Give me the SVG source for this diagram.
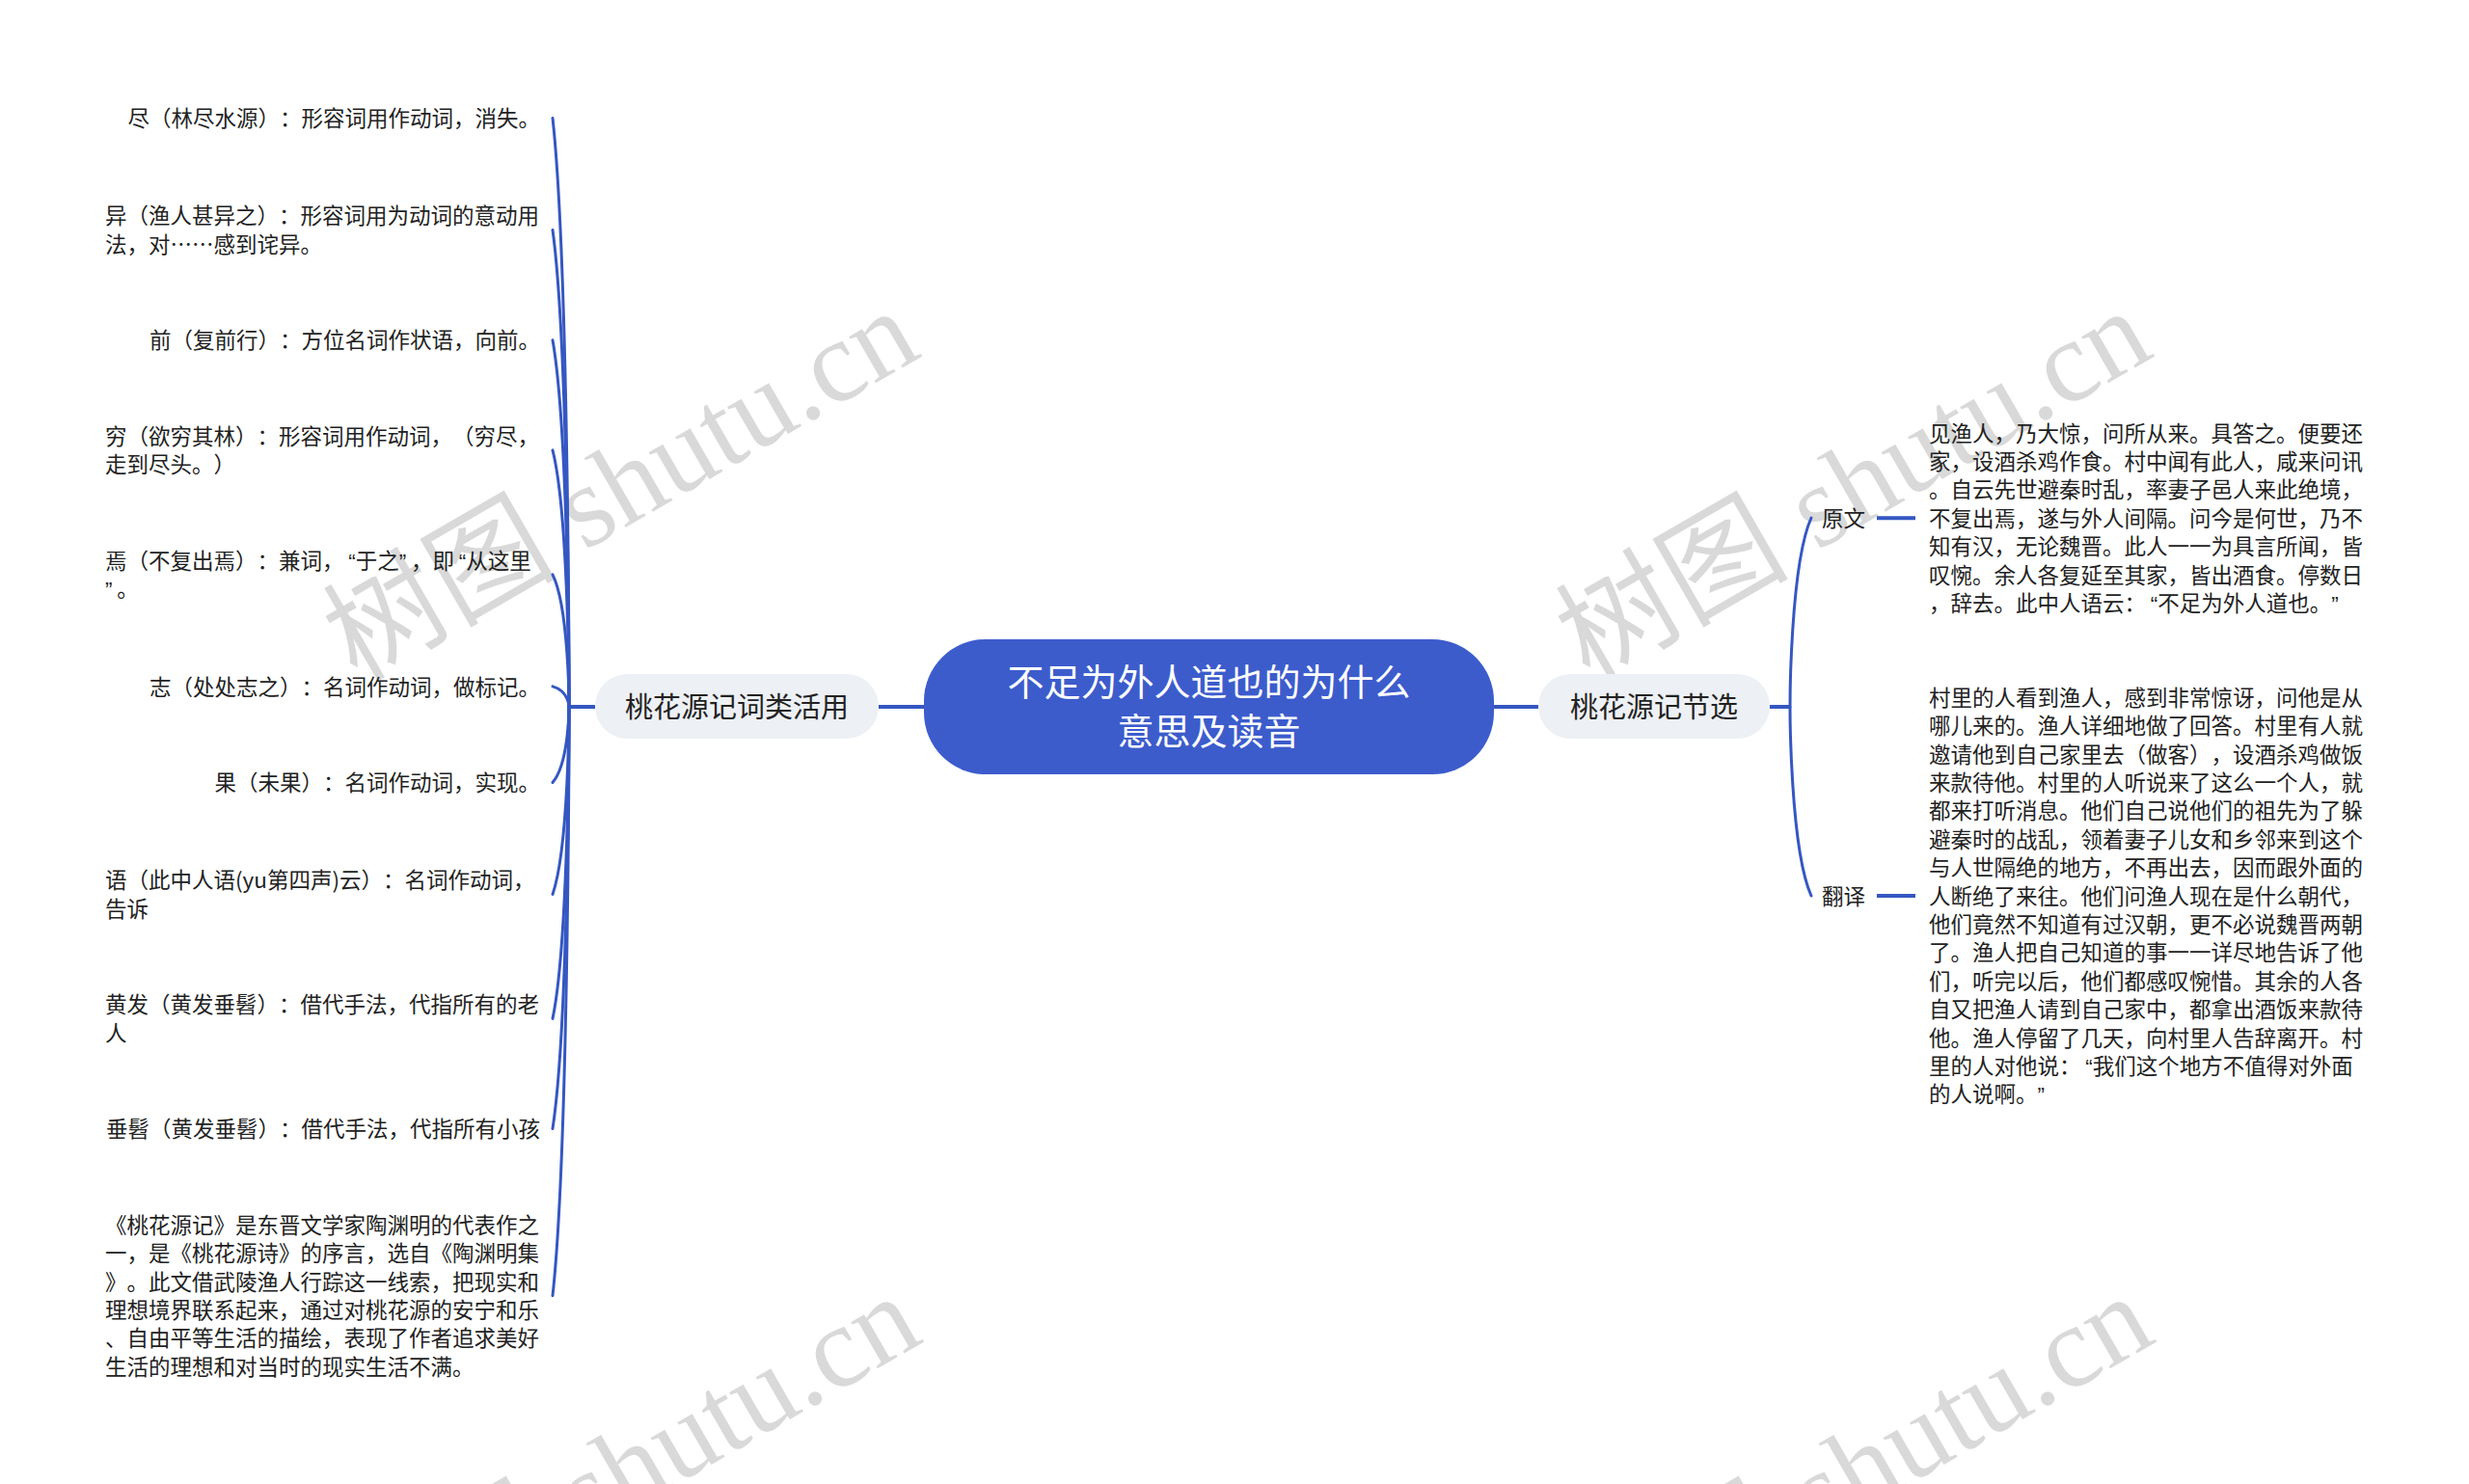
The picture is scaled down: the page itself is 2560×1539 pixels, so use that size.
<svg xmlns="http://www.w3.org/2000/svg" width="2560" height="1539" viewBox="0 0 2560 1539">
<style>
text{text-spacing-trim:space-all}
.wm{font-family:"Liberation Serif","Noto Sans CJK SC",serif;font-size:121px;fill:#000;fill-opacity:0.15}
.t{font-family:"Noto Sans CJK SC","Liberation Sans",sans-serif;font-size:22.5px;fill:#222}
.q{font-family:"Liberation Sans",sans-serif}
.qc{font-family:"Liberation Sans",sans-serif;letter-spacing:4.7px}
.e{text-anchor:end}
.br{font-family:"Noto Sans CJK SC","Liberation Sans",sans-serif;font-size:29px;fill:#222;text-anchor:middle}
.ct{font-family:"Noto Sans CJK SC","Liberation Sans",sans-serif;font-size:38px;fill:#fff;text-anchor:middle}
.ln{fill:none;stroke:#3557c2;stroke-width:3;stroke-linecap:round}
.lk{fill:none;stroke:#3557c2;stroke-width:4}
.bn{fill:#edf0f4}
</style>
<rect width="2560" height="1539" fill="#fff"/>
<g id="watermarks">
<text class="wm" transform="translate(370,708) rotate(-30)">树图 shutu.cn</text>
<text class="wm" transform="translate(1648,708) rotate(-30)">树图 shutu.cn</text>
<text class="wm" transform="translate(372,1730) rotate(-30)">树图 shutu.cn</text>
<text class="wm" transform="translate(1650,1730) rotate(-30)">树图 shutu.cn</text>
</g>
<g id="connectors">
<path class="lk" d="M911 733H958M1549 733H1595M617 733H590M1835 733H1856"/>
<path class="ln" d="M590 733C590 733 590 275 573 122.4"/>
<path class="ln" d="M590 733C590 733 590 362 573 238.4"/>
<path class="ln" d="M590 733C590 733 590 448 573 352.7"/>
<path class="ln" d="M590 733C590 733 590 533 573 466.9"/>
<path class="ln" d="M590 733C590 733 590 630 573 595.9"/>
<path class="ln" d="M590 733C590 733 590 717 573 711.9"/>
<path class="ln" d="M590 733C590 733 590 792 573 811.5"/>
<path class="ln" d="M590 733C590 733 590 879 573 927.4"/>
<path class="ln" d="M590 733C590 733 590 976 573 1056.4"/>
<path class="ln" d="M590 733C590 733 590 1061 573 1170.6"/>
<path class="ln" d="M590 733C590 733 590 1191 573 1343.7"/>
<path class="ln" d="M1856 733C1856 733 1856 586 1878 537"/>
<path class="ln" d="M1856 733C1856 733 1856 880 1878 929"/>
<path class="lk" d="M1946 537.2H1986M1946 929.1H1986"/>
</g>
<g id="root">
<rect x="958" y="663" width="591" height="140" rx="64" fill="#3c5ccc"/>
<text class="ct" x="1253.5" y="721">不足为外人道也的为什么</text>
<text class="ct" x="1253.5" y="772">意思及读音</text>
</g>
<g id="branch-left">
<rect class="bn" x="617" y="699" width="294" height="67" rx="33.5"/>
<text class="br" x="764" y="744">桃花源记词类活用</text>
</g>
<g id="branch-right">
<rect class="bn" x="1595" y="699" width="240" height="67" rx="33.5"/>
<text class="br" x="1715" y="744">桃花源记节选</text>
</g>
<g id="leaf-1"><text class="t e" x="560" y="131">尽（林尽水源）：形容词用作动词，消失。</text></g>
<g id="leaf-2"><text class="t" x="109" y="232">异（渔人甚异之）：形容词用为动词的意动用</text><text class="t" x="109" y="261.5">法，对……感到诧异。</text></g>
<g id="leaf-3"><text class="t e" x="560" y="361">前（复前行）：方位名词作状语，向前。</text></g>
<g id="leaf-4"><text class="t" x="109" y="461">穷（欲穷其林）：形容词用作动词，（穷尽，</text><text class="t" x="109" y="490">走到尽头。）</text></g>
<g id="leaf-5"><text class="t" x="109" y="590">焉（不复出焉）：兼词，<tspan class="q" dx="4.7">“</tspan>于之<tspan class="qc">”</tspan>，即<tspan class="q" dx="4.7">“</tspan>从这里</text><text class="t" x="109" y="619"><tspan class="qc">”</tspan>。</text></g>
<g id="leaf-6"><text class="t e" x="560" y="720.5">志（处处志之）：名词作动词，做标记。</text></g>
<g id="leaf-7"><text class="t e" x="560" y="820">果（未果）：名词作动词，实现。</text></g>
<g id="leaf-8"><text class="t" x="109" y="921">语（此中人语(yu第四声)云）：名词作动词，</text><text class="t" x="109" y="950.5">告诉</text></g>
<g id="leaf-9"><text class="t" x="109" y="1050">黄发（黄发垂髫）：借代手法，代指所有的老</text><text class="t" x="109" y="1079.5">人</text></g>
<g id="leaf-10"><text class="t e" x="560" y="1179">垂髫（黄发垂髫）：借代手法，代指所有小孩</text></g>
<g id="leaf-11">
<text class="t" x="109" y="1278.7">《桃花源记》是东晋文学家陶渊明的代表作之</text>
<text class="t" x="109" y="1308.1">一，是《桃花源诗》的序言，选自《陶渊明集</text>
<text class="t" x="109" y="1337.5">》。此文借武陵渔人行踪这一线索，把现实和</text>
<text class="t" x="109" y="1366.9">理想境界联系起来，通过对桃花源的安宁和乐</text>
<text class="t" x="109" y="1396.3">、自由平等生活的描绘，表现了作者追求美好</text>
<text class="t" x="109" y="1425.7">生活的理想和对当时的现实生活不满。</text>
</g>
<g id="label-yuanwen"><text class="t" x="1889" y="545.7">原文</text></g>
<g id="text-yuanwen">
<text class="t" x="2000" y="457.5">见渔人，乃大惊，问所从来。具答之。便要还</text>
<text class="t" x="2000" y="486.9">家，设酒杀鸡作食。村中闻有此人，咸来问讯</text>
<text class="t" x="2000" y="516.3">。自云先世避秦时乱，率妻子邑人来此绝境，</text>
<text class="t" x="2000" y="545.7">不复出焉，遂与外人间隔。问今是何世，乃不</text>
<text class="t" x="2000" y="575.1">知有汉，无论魏晋。此人一一为具言所闻，皆</text>
<text class="t" x="2000" y="604.5">叹惋。余人各复延至其家，皆出酒食。停数日</text>
<text class="t" x="2000" y="633.9">，辞去。此中人语云：<tspan class="q" dx="4.7">“</tspan>不足为外人道也。<tspan class="qc">”</tspan></text>
</g>
<g id="label-fanyi"><text class="t" x="1889" y="937.6">翻译</text></g>
<g id="text-fanyi">
<text class="t" x="2000" y="731.8">村里的人看到渔人，感到非常惊讶，问他是从</text>
<text class="t" x="2000" y="761.2">哪儿来的。渔人详细地做了回答。村里有人就</text>
<text class="t" x="2000" y="790.6">邀请他到自己家里去（做客），设酒杀鸡做饭</text>
<text class="t" x="2000" y="820">来款待他。村里的人听说来了这么一个人，就</text>
<text class="t" x="2000" y="849.4">都来打听消息。他们自己说他们的祖先为了躲</text>
<text class="t" x="2000" y="878.8">避秦时的战乱，领着妻子儿女和乡邻来到这个</text>
<text class="t" x="2000" y="908.2">与人世隔绝的地方，不再出去，因而跟外面的</text>
<text class="t" x="2000" y="937.6">人断绝了来往。他们问渔人现在是什么朝代，</text>
<text class="t" x="2000" y="967">他们竟然不知道有过汉朝，更不必说魏晋两朝</text>
<text class="t" x="2000" y="996.4">了。渔人把自己知道的事一一详尽地告诉了他</text>
<text class="t" x="2000" y="1025.8">们，听完以后，他们都感叹惋惜。其余的人各</text>
<text class="t" x="2000" y="1055.2">自又把渔人请到自己家中，都拿出酒饭来款待</text>
<text class="t" x="2000" y="1084.6">他。渔人停留了几天，向村里人告辞离开。村</text>
<text class="t" x="2000" y="1114">里的人对他说：<tspan class="q" dx="4.7">“</tspan>我们这个地方不值得对外面</text>
<text class="t" x="2000" y="1143.4">的人说啊。<tspan class="qc">”</tspan></text>
</g>
</svg>
